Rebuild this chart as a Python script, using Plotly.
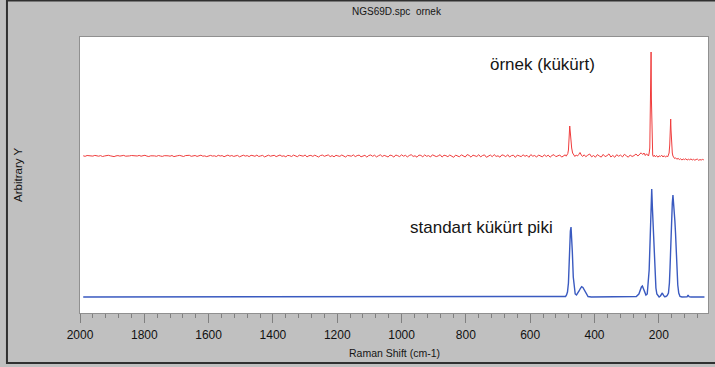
import plotly.graph_objects as go

# ---------------- data (Raman shift in cm-1, arbitrary intensity) ----------------
red_base_x = list(range(1990, 495, -6))
red_base_noise = [
    0.2, -0.3, 0.5, 0.1, -0.4, -0.1, 0.6, 0.3, -0.2, 0.4,
    -0.5, 0.0, 0.3, 0.7, 0.2, -0.3, -0.6, 0.1, 0.4, -0.1,
    0.3, 0.6, -0.2, -0.4, 0.1, 0.5, 0.2, -0.3, 0.0, 0.6,
    -0.2, 0.3, 0.7, -0.1, -0.5, 0.2, 0.4, 0.1, -0.3, 0.5,
    0.0, -0.4, 0.3, 0.6, 0.2, -0.2, 0.5, -0.6, 0.1, 0.3,
    0.6, -0.1, -0.5, 0.4, 0.2, 0.7, -0.3, 0.0, 0.5, -0.4,
    0.3, 0.8, -0.2, 0.1, -0.6, 0.4, 0.6, -0.1, 0.2, -0.5,
    0.7, 0.0, 0.4, -0.7, 0.3, 0.9, -0.2, 0.5, -0.4, 0.1,
    0.6, -0.8, 0.2, 0.8, -0.1, 0.4, -0.6, 0.7, 0.3, -0.3,
    0.9, -0.5, 0.1, 0.6, -0.9, 0.4, 0.8, -0.2, 0.0, 0.7,
    -0.6, 0.5, 1.0, -0.3, 0.2, -0.8, 0.6, 0.3, -0.5, 0.9,
    0.1, -0.7, 0.8, 0.4, -0.2, 1.0, -0.9, 0.3, 0.6, -0.4,
    0.8, -0.1, -1.0, 0.5, 0.9, -0.3, 0.2, 1.1, -0.6, 0.4,
    -0.8, 0.7, 0.1, -0.4, 1.0, 0.3, -1.0, 0.6, 0.2, -0.2,
    1.1, -0.6, 0.4, 0.9, -0.8, 0.0, 0.7, -1.1, 0.5, 1.0,
    -0.3, 0.8, -0.9, 0.2, 1.2, -0.5, 0.6, -0.1, -1.0, 0.9,
    0.4, -1.1, 1.0, 0.3, -0.6, 1.2, -0.2, 0.7, -0.9, 0.5,
    1.3, -0.4, 0.2, -1.2, 0.9, 0.6, -0.8, 1.1, -0.3, 0.4,
    -1.0, 1.2, 0.5, -0.6, 0.1, 1.3, -1.1, 0.8, 0.3, -0.7,
    1.0, -0.2, -1.3, 0.9, 0.4, -0.8, 1.2, 0.0, -1.0, 1.4,
    0.6, -1.2, 0.9, 0.2, -0.5, 1.3, -0.9, 0.5, 1.1, -1.3,
    0.3, 1.0, -0.7, 1.4, -0.4, 0.2, -1.2, 1.1, 0.6, -0.8,
    1.3, -1.0, 0.4, 0.8, -1.4, 0.9, 0.1, -0.6, 1.2, -0.3,
    0.7, -1.3, 1.4, -0.2, 0.5, -1.1, 1.0, 0.3, -0.9, 1.2,
    -0.5, 0.9, -1.2, 0.6, 1.3, -0.7, 0.2, 1.0, -1.1, 0.4,
]
red_base_level = 157.0

# sample ("örnek") spectrum, peak region 491 -> 60 cm-1
red_peak_x = [491, 488, 485, 483, 481, 479, 478, 477, 475, 473, 471, 468, 465, 461,
              457, 453, 449, 445, 441, 437, 432, 427, 421, 415, 409, 403, 397, 391, 385,
              379, 373, 367, 361, 355, 349, 343, 337, 331, 325, 319, 313, 307, 301, 295,
              289, 283, 277, 271, 265, 260, 255, 250, 246, 242, 238, 235, 232, 230, 228,
              227, 226, 225, 224, 223, 222, 221, 219, 217, 214, 211, 207, 203, 199, 195,
              191, 187, 183, 179, 175, 172, 170, 168, 166, 165, 164, 163, 162, 161, 159,
              158, 156, 154, 151, 148, 144, 140, 136, 132, 128, 124, 120, 116, 112, 108,
              104, 100, 96, 92, 88, 84, 80, 76, 72, 68, 64, 60]
red_peak_y = [158.2, 156.8, 158.5, 159.5, 163.0, 172.0, 184.0, 187.0, 180.0, 170.0, 165.0, 160.0, 158.0, 156.5,
              158.0, 157.0, 158.5, 160.5, 158.0, 156.5, 158.2, 156.3, 157.8, 159.0, 156.2, 157.5, 155.8, 158.4, 157.0,
              155.9, 158.6, 156.4, 157.3, 159.1, 156.0, 157.6, 155.7, 158.3, 156.8, 157.9, 156.1, 158.7, 157.2, 155.8,
              158.0, 156.5, 157.4, 159.0, 157.0, 158.8, 160.2, 158.5, 160.0, 157.5, 159.2, 158.0, 157.0, 160.0, 165.0,
              190.0, 214.0, 236.0, 261.0, 214.0, 190.0, 165.0, 158.0, 156.5, 157.8, 156.2, 157.5, 155.8, 157.2, 156.5,
              157.8, 156.0, 157.3, 155.9, 157.0, 156.3, 158.0, 160.0, 168.0, 183.0, 188.0, 194.0, 183.0, 175.0, 166.0,
              160.0, 157.0, 155.5, 154.5, 155.2, 153.8, 154.6, 153.5, 154.2, 153.0, 154.0, 153.4, 154.3, 152.9, 153.8,
              153.2, 154.1, 153.0, 153.7, 152.8, 153.5, 153.9, 152.7, 153.4, 153.0, 153.6, 153.1]

# standard sulfur ("standart kükürt") spectrum
blue_x = [1990, 1500, 1000, 600, 500, 490, 487, 484, 481, 478, 475, 473, 471, 469, 466,
          463, 460, 456, 452, 448, 444, 440, 436, 432, 428, 424, 420, 410, 300, 270,
          262, 258, 254, 251, 248, 244, 240, 236, 233, 230, 227, 224, 222, 220, 218,
          217, 215, 213, 211, 209, 206, 203, 199, 195, 192, 189, 186, 182, 178, 174,
          170, 167, 165, 162, 160, 158, 156, 154, 152, 150, 148, 146, 144, 141, 138,
          134, 128, 120, 112, 109, 106, 100, 80, 58]
blue_y = [16.0, 16.0, 16.0, 16.0, 16.0, 16.5, 18.0, 21.0, 30.0, 62.0, 82.0, 86.0, 78.0, 62.0, 36.0,
          24.0, 19.0, 18.0, 19.5, 22.0, 24.5, 26.3, 25.5, 23.0, 20.0, 17.8, 16.5, 16.0, 16.0, 16.5,
          19.0, 23.0, 26.0, 27.0, 25.0, 21.0, 18.0, 19.0, 28.0, 43.0, 73.0, 100.0, 124.0, 106.0, 90.0,
          85.0, 62.0, 46.0, 32.0, 25.0, 19.0, 17.0, 16.0, 17.0, 19.0, 20.0, 18.0, 16.2, 16.5, 17.5,
          20.0, 30.0, 46.0, 80.0, 108.0, 110.0, 118.0, 110.0, 106.0, 92.0, 80.0, 60.0, 43.0, 28.0, 20.0,
          16.5, 16.0, 16.0, 16.2, 18.0, 16.4, 16.0, 16.0, 16.0]

x_tick_vals = [2000, 1800, 1600, 1400, 1200, 1000, 800, 600, 400, 200]
x_range = [2000, 47]
y_range = [0, 276]

title_text = "NGS69D.spc  ornek"
x_title = "Raman Shift (cm-1)"
y_title = "Arbitrary Y"
label_sample = "örnek (kükürt)"
label_standard = "standart kükürt piki"

# ---------------- build series ----------------
red_x = red_base_x + red_peak_x
red_y = [red_base_level + n for n in red_base_noise] + red_peak_y

FONT = "Liberation Sans, Arial, sans-serif"

fig = go.Figure()
fig.add_trace(go.Scatter(x=red_x, y=red_y, mode="lines",
                         line=dict(color="#f03c3c", width=1.0), hoverinfo="skip"))
fig.add_trace(go.Scatter(x=blue_x, y=blue_y, mode="lines",
                         line=dict(color="#3a5ac0", width=1.4), hoverinfo="skip"))


def ann(text, x, y, size, angle=0):
    return dict(text=text, xref="paper", yref="paper", x=x, y=y,
                xanchor="center", yanchor="middle", textangle=angle,
                showarrow=False, font=dict(family=FONT, size=size, color="#151515"))


fig.update_layout(
    width=715, height=367,
    margin=dict(l=80, r=7, t=37, b=54),
    paper_bgcolor="#c0c0c0",
    plot_bgcolor="#ffffff",
    showlegend=False,
    font=dict(family=FONT, color="#111111", size=11),
    xaxis=dict(
        range=x_range, tickvals=x_tick_vals, ticks="outside", ticklen=9,
        tickcolor="#808080", tickwidth=1, showgrid=False, zeroline=False,
        showline=True, linecolor="#909090", mirror=True,
        tickfont=dict(family=FONT, size=12, color="#111111"),
        minor=dict(dtick=40, tick0=0, ticks="outside", ticklen=4, tickcolor="#808080"),
        ticklabelstandoff=2,
    ),
    yaxis=dict(
        range=y_range, showticklabels=False, ticks="", showgrid=False, zeroline=False,
        showline=True, linecolor="#909090", mirror=True,
    ),
    shapes=[
        dict(type="rect", xref="paper", yref="paper",
             x0=-0.1163, x1=1.03, y0=-0.181, y1=1.132,
             line=dict(color="#303030", width=2), layer="below"),
    ],
    annotations=[
        ann(title_text, 0.505, 1.0906, 10),
        ann(x_title, 0.5, -0.145, 10.5),
        ann(y_title, -0.0988, 0.5, 11.5, -90),
        ann(label_sample, 0.736, 0.899, 17),
        ann(label_standard, 0.640, 0.308, 17),
    ],
)

fig.write_html("out.html",
               config={"displayModeBar": False},
               post_script="document.body.style.margin='0';document.body.style.overflow='hidden';")
